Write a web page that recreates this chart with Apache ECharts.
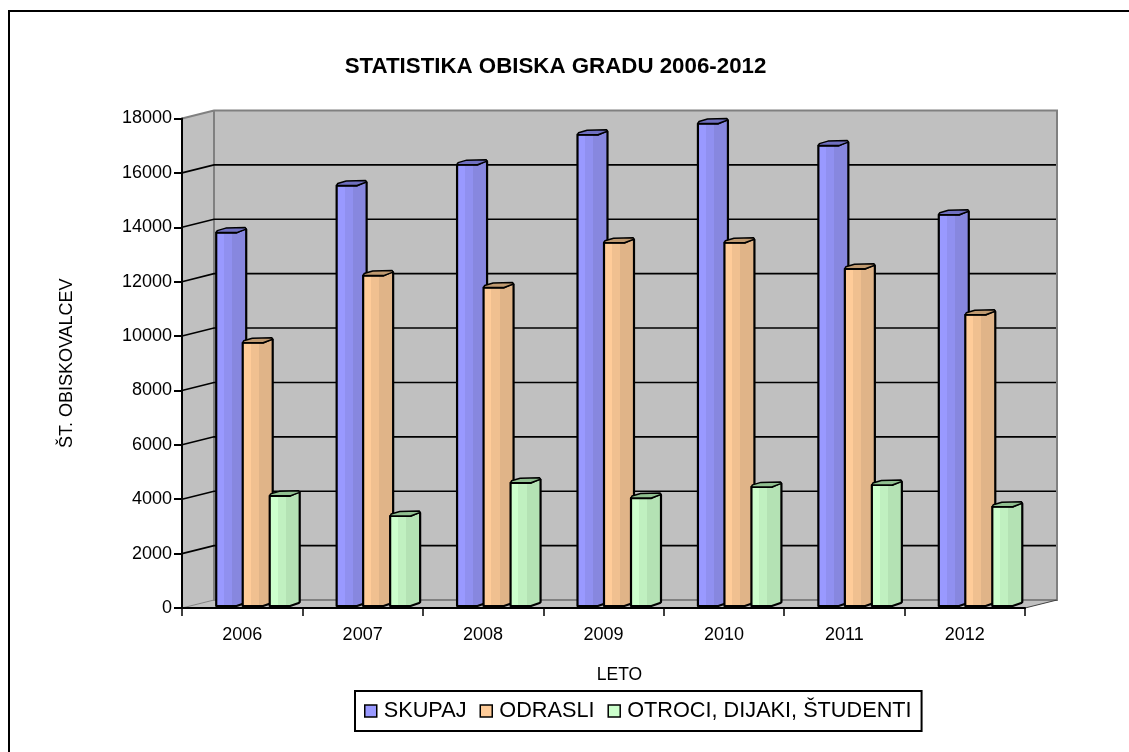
<!DOCTYPE html>
<html><head><meta charset="utf-8">
<style>html,body{margin:0;padding:0;background:#fff}#c{width:1129px;height:752px}</style>
<script src="https://cdn.jsdelivr.net/npm/echarts@6/dist/echarts.min.js"></script></head>
<body><div id="c"></div>
<script>
const categories = ['2006','2007','2008','2009','2010','2011','2012'];
const skupaj = [13730,15460,16230,17330,17740,16930,14390];
const odrasli = [9680,12150,11710,13360,13360,12400,10710];
const otroci = [4050,3310,4530,3970,4380,4450,3650];
const yTicks = [0,2000,4000,6000,8000,10000,12000,14000,16000,18000];
const seriesNames = ['SKUPAJ','ODRASLI','OTROCI, DIJAKI, ŠTUDENTI'];

const FONT = '"Liberation Sans", Arial, sans-serif';
const WALL_DX = 32, WALL_DY = -8;
const BAR_W = 30, BAR_LIFT = 2;
const palettes = [
  {a:'#9999FF', b:'#9090F0', c:'#8787DF', cap:'#6F6FC0'},
  {a:'#FFCC99', b:'#F0C090', c:'#E0B488', cap:'#C09A70'},
  {a:'#CCFFCC', b:'#C0F0C0', c:'#B4E2B4', cap:'#90C090'}
];
const offsets = [-26, 0.5, 27.5];

function wallItem(params, api){
  const tick = api.value(1);
  const cs = params.coordSys;
  const y = api.coord([0,tick])[1];
  const L = cs.x, R = cs.x+cs.width;
  const kids = [];
  const grey = '#808080', fill = '#C0C0C0';
  if (tick === 0){
    const T = cs.y;
    kids.push({type:'polygon',shape:{points:[[L,T],[L+WALL_DX,T+WALL_DY],[L+WALL_DX,y+WALL_DY],[L,y]]},style:{fill:fill,stroke:null}});
    kids.push({type:'rect',shape:{x:L+WALL_DX,y:T+WALL_DY,width:cs.width,height:y-T},style:{fill:fill,stroke:null}});
    kids.push({type:'polygon',shape:{points:[[L,y],[L+WALL_DX,y+WALL_DY],[R+WALL_DX,y+WALL_DY],[R,y]]},style:{fill:fill,stroke:null}});
    kids.push({type:'polyline',shape:{points:[[L,T],[L+WALL_DX,T+WALL_DY],[R+WALL_DX,T+WALL_DY],[R+WALL_DX,y+WALL_DY],[L+WALL_DX,y+WALL_DY],[L+WALL_DX,T+WALL_DY]]},style:{fill:null,stroke:grey,lineWidth:2}});
    kids.push({type:'line',shape:{x1:L,y1:y,x2:L+WALL_DX,y2:y+WALL_DY},style:{stroke:grey,lineWidth:1}});
    kids.push({type:'line',shape:{x1:R,y1:y,x2:R+WALL_DX,y2:y+WALL_DY},style:{stroke:'#404040',lineWidth:1}});
  } else if (tick < 18000){
    kids.push({type:'polyline',shape:{points:[[L,y],[L+WALL_DX,y+WALL_DY],[R+WALL_DX-1,y+WALL_DY]]},style:{fill:null,stroke:'#000',lineWidth:1.6},z2:5});
  }
  return {type:'group',children:kids};
}

function barItem(sIdx){
  const p = palettes[sIdx];
  const fill = new echarts.graphic.LinearGradient(0,0,1,0,[
    {offset:0,color:p.a},{offset:.28,color:p.a},{offset:.28,color:p.b},
    {offset:.53,color:p.b},{offset:.53,color:p.c},{offset:1,color:p.c}]);
  return function(params, api){
    const i = api.value(0), v = api.value(1);
    const x0 = api.coord([i,0])[0] + offsets[sIdx];
    const yB = api.coord([i,0])[1] - BAR_LIFT;
    const yT = api.coord([i,v])[1] - BAR_LIFT;
    const x1 = x0 + BAR_W;
    const xm = x0 + BAR_W*0.68;
    const body = [[x0,yT],[x0,yB],[xm,yB],[x1-1,yB-3],[x1,yB-4],[x1,yT-3],[x1-1,yT-4],[xm,yT]];
    const cap = [[x0,yT],[x0+1,yT-2],[x0+BAR_W*0.32,yT-4.5],[x1-1,yT-5],[x1,yT-3.5],[xm,yT]];
    return {type:'group',children:[
      {type:'polygon',shape:{points:body},style:{fill:fill,stroke:'#000',lineWidth:2.2,lineJoin:'round'}},
      {type:'polygon',shape:{points:cap},style:{fill:p.cap,stroke:'#000',lineWidth:1.5,lineJoin:'round'}}
    ]};
  };
}

const chart = echarts.init(document.getElementById('c'),null,{renderer:'canvas'});
const barData = [skupaj,odrasli,otroci];
chart.setOption({
  animation:false,
  backgroundColor:'#fff',
  title:{text:'STATISTIKA OBISKA GRADU 2006-2012',left:550.5,top:51,textAlign:'center',
    textStyle:{fontFamily:FONT,fontWeight:'bold',fontSize:22.3,color:'#000'}},
  grid:{left:182,top:118.5,width:843,height:489.5,containLabel:false},
  legend:{
    left:355,top:691,padding:[9,10,9,9],itemGap:13,itemWidth:12,itemHeight:12,
    borderColor:'#000',borderWidth:2,backgroundColor:'#fff',selectedMode:false,
    textStyle:{fontFamily:FONT,fontSize:21.7,color:'#000',padding:[0,0,0,2]},
    data:seriesNames.map((n,i)=>({name:n,icon:'rect',itemStyle:{color:palettes[i].a,borderColor:'#000',borderWidth:1.5}}))
  },
  xAxis:{type:'category',data:categories,
    name:'LETO',nameLocation:'middle',nameGap:58,
    nameTextStyle:{fontFamily:FONT,fontSize:17.5,color:'#000',padding:[0,0,0,32]},
    axisLine:{show:true,lineStyle:{color:'#000',width:2}},
    axisTick:{show:true,length:8,alignWithLabel:false,lineStyle:{color:'#000',width:1.5}},
    axisLabel:{fontFamily:FONT,fontSize:18,color:'#000',margin:18},
    splitLine:{show:false}},
  yAxis:{type:'value',min:0,max:18000,interval:2000,
    name:'ŠT. OBISKOVALCEV',nameLocation:'middle',nameGap:106,nameRotate:90,
    nameTextStyle:{fontFamily:FONT,fontSize:18,color:'#000'},
    axisLine:{show:true,lineStyle:{color:'#000',width:2}},
    axisTick:{show:true,length:8,lineStyle:{color:'#000',width:2}},
    axisLabel:{fontFamily:FONT,fontSize:18,color:'#000',margin:10,formatter:v=>String(v)},
    splitLine:{show:false}},
  graphic:[
    {type:'polyline',silent:true,shape:{points:[[9,752],[9,11],[1129,11]]},style:{fill:null,stroke:'#000',lineWidth:2}}
  ],
  series:[
    {type:'custom',name:'walls',z:-1,silent:true,clip:false,renderItem:wallItem,
     data:yTicks.map(t=>[0,t]),encode:{x:0,y:1}},
    ...barData.map((vals,s)=>({
      type:'custom',name:seriesNames[s],z:3+s,clip:false,
      itemStyle:{color:palettes[s].a},
      renderItem:barItem(s),
      data:vals.map((v,i)=>[i,v]),encode:{x:0,y:1}
    }))
  ]
});
</script></body></html>
